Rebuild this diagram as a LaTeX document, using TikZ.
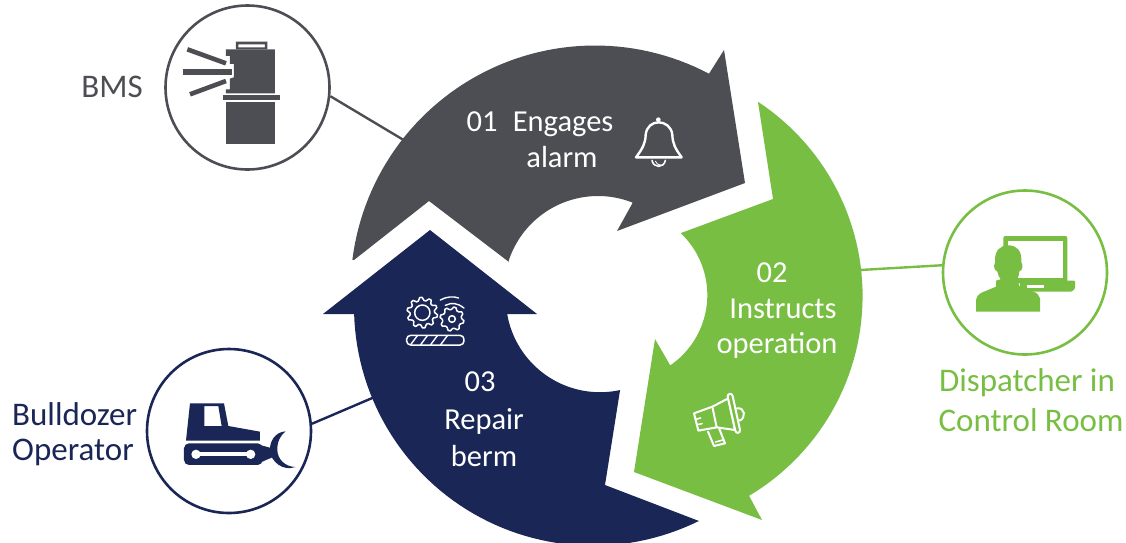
\documentclass[tikz,border=0pt]{standalone}
\usepackage{fontspec}
\setmainfont{Carlito}
\definecolor{darkg}{HTML}{4D4E53}
\definecolor{leaf}{HTML}{78BE43}
\definecolor{navy}{HTML}{1A2656}
\newcommand{\gearshape}[6]{\draw[#6,line join=round] plot[domain=0:#5*4,samples=#5*4+1,variable=\k] ({#1+cos(\k*90/#5+8)*(mod(\k,4)<1.5?#4:#4*0.8)},{#2+sin(\k*90/#5+8)*(mod(\k,4)<1.5?#4:#4*0.8)}) -- cycle; \draw[#6] (#1,#2) circle (#3);}
\tikzset{
  ring/.style={circle,draw,fill=white,line width=2.6pt,minimum size=164pt,inner sep=0pt},
  wire/.style={line width=2.4pt},
  lab/.style={font=\fontsize{30.5}{30.5}\selectfont,inner sep=0pt,anchor=center},
  side/.style={font=\fontsize{33}{33}\selectfont,inner sep=0pt,anchor=center},
  zoomed/.style={x=0.3333pt,y=-0.3333pt},
  iconline/.style={draw=white,line width=2pt,line join=round,line cap=round},
  arcp/.style={domain=#1,samples=60,variable=\t},
}
\begin{document}
\begin{tikzpicture}[x=1pt,y=-1pt]
\useasboundingbox (0,0) rectangle (1126,542);
\clip (0,0) rectangle (1126,542);
% anchors and circles
\coordinate (bmsEnd) at (412,145);
\coordinate (dozerEnd) at (384,393);
\coordinate (dispEnd) at (850,270.6);
\node[ring,draw=darkg] (bms) at (247.5,87.5) {};
\node[ring,draw=navy] (dozer) at (229,431) {};
\node[ring,draw=leaf] (disp) at (1025,272.5) {};
\draw[wire,darkg] (bms.-6.6) -- (bmsEnd);
\draw[wire,navy] (dozer.5.5) -- (dozerEnd);
\draw[wire,leaf] (disp.175.5) -- (dispEnd);
% arrows
\fill[darkg] (354,260) -- plot[arcp=172.9:62.2] ({595+244.5*cos(\t)},{290-244.5*sin(\t)}) -- (724,50) -- (745,183) -- (617,231) -- (632,204) -- plot[arcp=68.4:162.5] ({598+94*cos(\t)},{290-94*sin(\t)}) -- (509,262) -- (429,201) -- cycle;
\fill[leaf] (758,102) -- plot[arcp=56.6:-59.2] ({630+232.6*cos(\t)},{296-232.6*sin(\t)}) -- (762,520) -- (634,472) -- (655,339) -- (670,365) -- plot[arcp=-55.6:46.4] ({622+85.3*cos(\t)},{295-85.3*sin(\t)}) -- (681,233) -- (773,199) -- cycle;
\fill[navy] (430,230) -- (537,314) -- (507,314) -- plot[arcp=189.8:282.3] ({600+94.2*cos(\t)},{298-94.2*sin(\t)}) -- (605,485) -- plot[arcp=296.3:181.7] ({593+239*cos(\t)},{306.7-239*sin(\t)}) -- (354,314) -- (323,314) -- cycle;
% labels
\node[lab,white] (t1) at (540,124) {01\hspace{0.5em}Engages};
\node[lab,white] (t1b) at (562,157.5) {alarm};
\node[lab,white] (t2) at (772,273) {02};
\node[lab,white] (t2b) at (783,309) {Instructs};
\node[lab,white] (t2c) at (777,345) {operation};
\node[lab,white] (t3) at (480,382) {03};
\node[lab,white] (t3b) at (484,421) {Repair};
\node[lab,white] (t3c) at (484,456) {berm};
\node[side,darkg] (t4) at (112,87) {BMS};
\node[side,navy,anchor=west] (t5) at (12,414) {Bulldozer};
\node[side,navy,anchor=west] (t5b) at (12,452) {Operator};
\node[side,leaf] (t6) at (1027,383) {Dispatcher in};
\node[side,leaf] (t6b) at (1031,420) {Control Room};
% BMS icon
\begin{scope}[shift={(150,0)},zoomed]
\fill[darkg] (228,306) rectangle (375,432);
\fill[darkg] (219,285) rectangle (390,300);
\fill[darkg] (228,148) -- (375,148) -- (375,280) -- (228,280) -- (228,268) -- (240,268) -- (240,236) -- (252,232) -- (252,192) -- (240,192) -- (240,168) -- (228,168) -- cycle;
\fill[darkg,even odd rule] (258,125) rectangle (352,148) (265,133) rectangle (345,142);
\fill[darkg] (100,208) rectangle (245,224);
\draw[darkg,line width=4.6pt] (112,148) -- (228,190);
\draw[darkg,line width=4.6pt] (120,283) -- (228,243);
\end{scope}
% bulldozer icon
\begin{scope}[shift={(140,340)},zoomed]
\fill[navy,even odd rule] (150,190) -- (252,190) -- (265,258) -- (360,275) -- (360,302) -- (138,302) -- cycle (193,198) -- (235,198) -- (245,258) -- (193,258) -- cycle;
\fill[navy] (360,315) -- (397,325) -- (397,352) -- (360,368) -- cycle;
\fill[navy,rounded corners=5pt] (132,310) rectangle (368,375);
\fill[white] (168,343) circle (14);
\fill[white] (332,343) circle (14);
\fill[white] (168,337) rectangle (332,349);
\fill[navy] (437,274) .. controls (405,276) and (388,305) .. (390,332) .. controls (392,365) and (430,395) .. (466,381) .. controls (435,380) and (413,358) .. (412,330) .. controls (411,305) and (422,285) .. (437,274) -- cycle;
\end{scope}
% dispatcher icon
\begin{scope}[shift={(940,190)},zoomed]
\fill[leaf,rounded corners=2pt] (190,138) rectangle (382,280);
\fill[white] (204,152) rectangle (368,265);
\fill[leaf,rounded corners=1pt] (240,272) -- (405,272) -- (405,296) -- (395,305) -- (240,305) -- cycle;
\fill[white] (260,286) rectangle (312,294);
\fill[leaf] (205,166) .. controls (180,166) and (165,182) .. (165,210) -- (165,218) .. controls (158,230) and (165,243) .. (172,244) .. controls (174,255) and (178,262) .. (182,268) -- (168,272) -- (168,290) -- (125,308) .. controls (112,314) and (108,325) .. (108,335) -- (108,365) -- (300,365) -- (300,325) .. controls (298,315) and (290,308) .. (280,305) -- (238,288) -- (232,268) .. controls (236,258) and (238,250) .. (238,244) .. controls (248,242) and (250,226) .. (244,216) -- (244,208) .. controls (244,182) and (230,166) .. (205,166) -- cycle;
\end{scope}
% bell icon
\begin{scope}[shift={(620,105)},zoomed]
\draw[iconline,line width=2.4pt] (48,157) -- (185,157) .. controls (165,130) and (158,115) .. (157,90) .. controls (155,65) and (135,52) .. (116,52) .. controls (97,52) and (79,65) .. (77,90) .. controls (76,115) and (68,130) .. (48,157) -- cycle;
\fill[white] (115,44) circle (7);
\draw[iconline,line width=1.6pt] (96,166) .. controls (100,190) and (132,190) .. (136,166);
\draw[white,line width=0.8pt] (106,168) .. controls (108,176) and (115,180) .. (122,180);
\end{scope}
% megaphone icon
\begin{scope}[shift={(680,380)},zoomed]
\draw[iconline] (42,100) -- (97,80) -- (145,55) -- (165,150) -- (110,142) -- (55,152) -- cycle;
\draw[iconline] (97,80) -- (110,142);
\draw[iconline,fill=leaf] (143,50) .. controls (142,40) and (156,38) .. (158,48) -- (180,150) .. controls (181,160) and (168,162) .. (166,152) -- cycle;
\draw[iconline] (170,85) .. controls (195,80) and (200,115) .. (178,122);
\draw[iconline] (84,155) -- (102,198) -- (135,190) -- (118,147);
\draw[iconline,line width=1.6pt] (107,186) -- (128,180);
\draw[iconline,line width=1.6pt] (46,118) -- (62,114);
\draw[iconline,line width=1.6pt] (50,134) -- (66,131);
\end{scope}
% gears icon
\begin{scope}[shift={(390,280)},zoomed]
\gearshape{97}{98}{23}{46}{10}{iconline,line width=1.5pt}
\gearshape{186}{117}{10}{36}{8}{iconline,line width=1.5pt}
\draw[iconline,line width=1.4pt] (151,60) .. controls (168,50) and (190,48) .. (206,54);
\draw[iconline,line width=1.4pt] (166,76) .. controls (185,66) and (205,70) .. (222,84);
\draw[iconline,line width=1.5pt,rounded corners=4pt] (50,166) rectangle (222,195);
\draw[iconline,line width=1.4pt] (62,194) -- (82,167) (92,194) -- (112,167) (122,194) -- (142,167) (152,194) -- (172,167);
\end{scope}
\end{tikzpicture}
\end{document}
